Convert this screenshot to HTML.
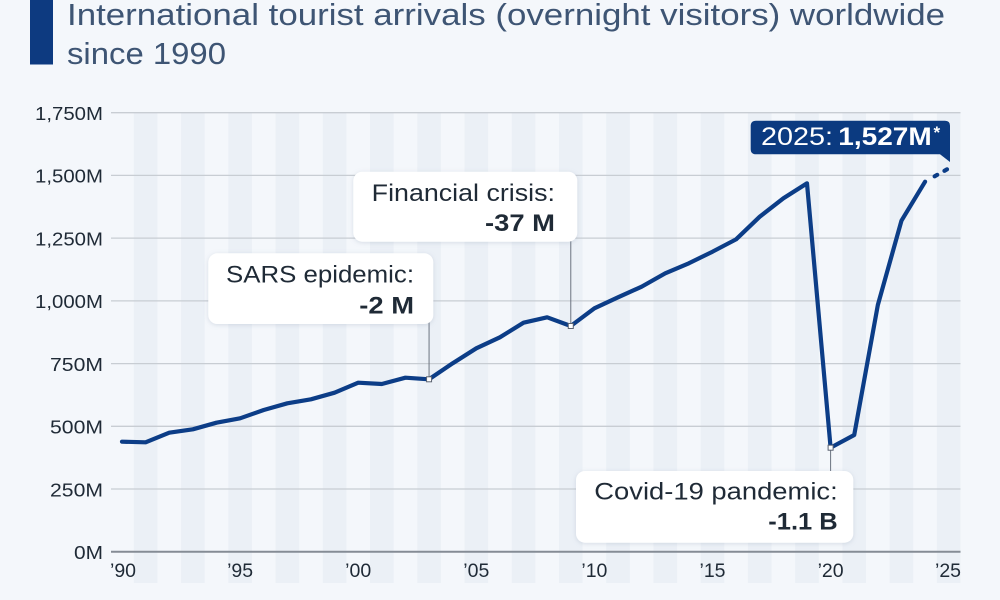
<!DOCTYPE html>
<html>
<head>
<meta charset="utf-8">
<style>
  html,body{margin:0;padding:0;background:#f4f7fb;}
  svg{display:block;}
  text{font-family:"Liberation Sans", Arial, sans-serif;}
</style>
</head>
<body>
<svg width="1000" height="600" viewBox="0 0 1000 600" xmlns="http://www.w3.org/2000/svg">
  <defs>
    <filter id="sh" x="-20%" y="-30%" width="140%" height="160%">
      <feDropShadow dx="0" dy="1" stdDeviation="2.5" flood-color="#8a9bb0" flood-opacity="0.3"/>
    </filter>
  </defs>
  <rect x="0" y="0" width="1000" height="600" fill="#f4f7fb"/>

  <!-- title -->
  <rect x="30" y="0" width="23" height="64.5" fill="#0d3a80"/>
  <text x="67" y="25" font-size="31" fill="#3e5574" textLength="878" lengthAdjust="spacingAndGlyphs">International tourist arrivals (overnight visitors) worldwide</text>
  <text x="67" y="64" font-size="31" fill="#3e5574" textLength="159" lengthAdjust="spacingAndGlyphs">since 1990</text>

  <!-- bands (odd years) -->
  <g fill="#ebf0f6">
    <rect x="133.81" y="113" width="23.62" height="470"/>
    <rect x="181.05" y="113" width="23.62" height="470"/>
    <rect x="228.29" y="113" width="23.62" height="470"/>
    <rect x="275.53" y="113" width="23.62" height="470"/>
    <rect x="322.77" y="113" width="23.62" height="470"/>
    <rect x="370.01" y="113" width="23.62" height="470"/>
    <rect x="417.25" y="113" width="23.62" height="470"/>
    <rect x="464.49" y="113" width="23.62" height="470"/>
    <rect x="511.73" y="113" width="23.62" height="470"/>
    <rect x="558.97" y="113" width="23.62" height="470"/>
    <rect x="606.21" y="113" width="23.62" height="470"/>
    <rect x="653.45" y="113" width="23.62" height="470"/>
    <rect x="700.69" y="113" width="23.62" height="470"/>
    <rect x="747.93" y="113" width="23.62" height="470"/>
    <rect x="795.17" y="113" width="23.62" height="470"/>
    <rect x="842.41" y="113" width="23.62" height="470"/>
    <rect x="889.65" y="113" width="23.62" height="470"/>
    <rect x="936.89" y="113" width="23.62" height="470"/>
  </g>

  <!-- gridlines -->
  <g stroke="#c8cdd3" stroke-width="1.3">
    <line x1="111" y1="112.7" x2="960.5" y2="112.7"/>
    <line x1="111" y1="175.4" x2="960.5" y2="175.4"/>
    <line x1="111" y1="238.1" x2="960.5" y2="238.1"/>
    <line x1="111" y1="300.9" x2="960.5" y2="300.9"/>
    <line x1="111" y1="363.6" x2="960.5" y2="363.6"/>
    <line x1="111" y1="426.3" x2="960.5" y2="426.3"/>
    <line x1="111" y1="489.0" x2="960.5" y2="489.0"/>
  </g>
  <line x1="111" y1="551.7" x2="960.5" y2="551.7" stroke="#858c95" stroke-width="2"/>

  <!-- y labels -->
  <g font-size="18.5" fill="#1f2a36" text-anchor="end">
    <text x="103" y="120" textLength="68" lengthAdjust="spacingAndGlyphs">1,750M</text>
    <text x="103" y="182.7" textLength="68" lengthAdjust="spacingAndGlyphs">1,500M</text>
    <text x="103" y="245.4" textLength="68" lengthAdjust="spacingAndGlyphs">1,250M</text>
    <text x="103" y="308.2" textLength="68" lengthAdjust="spacingAndGlyphs">1,000M</text>
    <text x="103" y="370.9" textLength="53" lengthAdjust="spacingAndGlyphs">750M</text>
    <text x="103" y="433.6" textLength="53" lengthAdjust="spacingAndGlyphs">500M</text>
    <text x="103" y="496.3" textLength="53" lengthAdjust="spacingAndGlyphs">250M</text>
    <text x="103" y="559" textLength="29" lengthAdjust="spacingAndGlyphs">0M</text>
  </g>

  <!-- x labels -->
  <g font-size="19.5" fill="#1f2a36" text-anchor="middle">
    <text x="123" y="577">’90</text>
    <text x="240.1" y="577">’95</text>
    <text x="358.2" y="577">’00</text>
    <text x="476.3" y="577">’05</text>
    <text x="594.4" y="577">’10</text>
    <text x="712.5" y="577">’15</text>
    <text x="830.6" y="577">’20</text>
    <text x="948" y="577">’25</text>
  </g>

  <!-- connectors -->
  <g stroke="#6b7380" stroke-width="1">
    <line x1="429.06" y1="320" x2="429.06" y2="377"/>
    <line x1="570.78" y1="238" x2="570.78" y2="323.5"/>
    <line x1="830.6" y1="450" x2="830.6" y2="474"/>
  </g>

  <!-- annotation boxes -->
  <g filter="url(#sh)" fill="#ffffff">
    <rect x="353.3" y="171.7" width="224" height="70" rx="9"/>
    <rect x="208.3" y="253.3" width="225" height="70.7" rx="9"/>
    <rect x="576" y="471" width="277.3" height="71.7" rx="9"/>
  </g>
  <g fill="#1f2a36" font-size="24" text-anchor="end">
    <text x="555" y="201" textLength="183.3" lengthAdjust="spacingAndGlyphs">Financial crisis:</text>
    <text x="555" y="231" font-weight="bold" textLength="70" lengthAdjust="spacingAndGlyphs">-37 M</text>
    <text x="414" y="282.7" textLength="188" lengthAdjust="spacingAndGlyphs">SARS epidemic:</text>
    <text x="414" y="313.3" font-weight="bold" textLength="54.7" lengthAdjust="spacingAndGlyphs">-2 M</text>
    <text x="837.7" y="499.3" textLength="243.4" lengthAdjust="spacingAndGlyphs">Covid-19 pandemic:</text>
    <text x="837.7" y="529.3" font-weight="bold" textLength="69.4" lengthAdjust="spacingAndGlyphs">-1.1 B</text>
  </g>

  <!-- main line -->
  <polyline fill="none" stroke="#0c3d87" stroke-width="4.2" stroke-linejoin="round" stroke-linecap="round"
    points="122.0,441.7 145.62,442.3 169.24,432.7 192.86,429.3 216.48,422.7 240.10,418.3 263.72,410.0 287.34,403.3 310.96,399.3 334.58,392.7 358.20,382.7 381.82,384.0 405.44,377.7 429.06,379.3 452.68,363.3 476.30,348.3 499.92,337.3 523.54,322.7 547.16,317.3 570.78,326.0 594.40,308.3 618.02,297.3 641.64,286.7 665.26,273.3 688.88,263.3 712.50,251.7 736.12,239.3 759.74,216.7 783.36,198.3 806.98,183.3 830.60,447.7 854.22,435.0 877.84,305.0 901.46,220.7 925.08,181.7"/>
  <g stroke="#0c3d87" stroke-width="4.2" stroke-linecap="round">
    <line x1="934.65" y1="176.3" x2="937.25" y2="174.85"/>
    <line x1="944.45" y1="170.8" x2="947.0" y2="169.3"/>
  </g>

  <!-- markers -->
  <g fill="#ffffff" stroke="#5a6270" stroke-width="1">
    <rect x="426.56" y="376.8" width="5" height="5"/>
    <rect x="568.28" y="323.5" width="5" height="5"/>
    <rect x="828.1" y="445.2" width="5" height="5"/>
  </g>

  <!-- 2025 callout -->
  <path d="M756,120.7 H945 Q950,120.7 950,125.7 V162 L940,154.3 H756 Q750.7,154.3 750.7,149 V126 Q750.7,120.7 756,120.7 Z" fill="#0b3a80"/>
  <text x="761" y="145" font-size="25" fill="#ffffff" textLength="72" lengthAdjust="spacingAndGlyphs">2025:</text>
  <text x="838.3" y="145" font-size="25" font-weight="bold" fill="#ffffff" textLength="93.4" lengthAdjust="spacingAndGlyphs">1,527M</text>
  <text x="933.5" y="138" font-size="17" font-weight="bold" fill="#ffffff">*</text>
</svg>
</body>
</html>
